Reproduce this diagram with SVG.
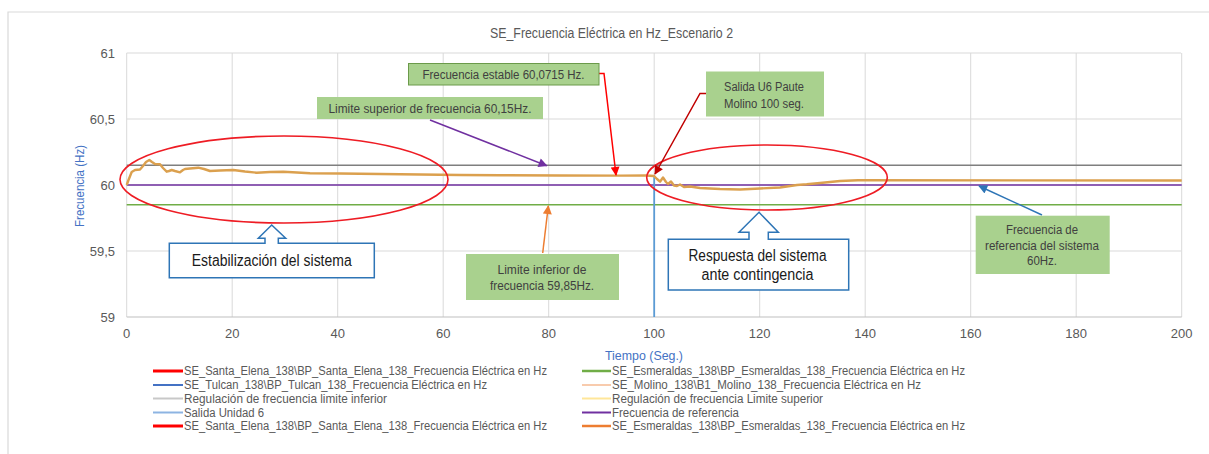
<svg xmlns="http://www.w3.org/2000/svg" width="1209" height="454" viewBox="0 0 1209 454">
  <style>
    text { font-family: "Liberation Sans", Arial, sans-serif; }
    .grid { stroke: #d9d9d9; stroke-width: 1; fill: none; }
    .tick { font-size: 13px; fill: #595959; }
    .ytick { text-anchor: end; }
    .xtick { text-anchor: middle; }
    .axtitle { font-size: 13px; fill: #4472c4; text-anchor: middle; }
    .title { font-size: 14px; fill: #595959; text-anchor: middle; }
    .leg { font-size: 12px; fill: #595959; }
    .note { fill: #a9d18e; }
    .notetxt { font-size: 12px; fill: #404040; text-anchor: middle; }
    .callout { fill: #ffffff; stroke: #2e75b6; stroke-width: 1.5; }
    .calltxt { font-size: 16px; fill: #1a1a1a; text-anchor: middle; }
    .halo { fill: none; stroke: #ee1c24; stroke-width: 1.6; }
    .conn { fill: none; stroke-width: 1.5; }
  </style>
  <defs>
    <marker id="ahPurple" viewBox="0 0 10 10" refX="9" refY="5" markerWidth="10" markerHeight="9" markerUnits="userSpaceOnUse" orient="auto">
      <path d="M0,0 L10,5 L0,10 z" fill="#7030a0"/>
    </marker>
    <marker id="ahRed" viewBox="0 0 10 10" refX="9" refY="5" markerWidth="10" markerHeight="9" markerUnits="userSpaceOnUse" orient="auto">
      <path d="M0,0 L10,5 L0,10 z" fill="#ff0000"/>
    </marker>
    <marker id="ahDarkRed" viewBox="0 0 10 10" refX="9" refY="5" markerWidth="10" markerHeight="9" markerUnits="userSpaceOnUse" orient="auto">
      <path d="M0,0 L10,5 L0,10 z" fill="#c00000"/>
    </marker>
    <marker id="ahOrange" viewBox="0 0 10 10" refX="9" refY="5" markerWidth="10" markerHeight="9" markerUnits="userSpaceOnUse" orient="auto">
      <path d="M0,0 L10,5 L0,10 z" fill="#ed7d31"/>
    </marker>
    <marker id="ahBlue" viewBox="0 0 10 10" refX="9" refY="5" markerWidth="10" markerHeight="9" markerUnits="userSpaceOnUse" orient="auto">
      <path d="M0,0 L10,5 L0,10 z" fill="#2e75b6"/>
    </marker>
  </defs>

  <rect width="1209" height="454" fill="#ffffff"/>
  <!-- chart frame -->
  <path d="M8,460 L8,12 L1215,12" fill="none" stroke="#d9d9d9" stroke-width="1.2"/>

  <text id="title" class="title" x="611.5" y="38" textLength="243" lengthAdjust="spacingAndGlyphs">SE_Frecuencia Eléctrica en Hz_Escenario 2</text>

  <!-- plot grid -->
  <g id="grid">
    <path class="grid" d="M126.7,53 H1181 M126.7,119 H1181 M126.7,185 H1181 M126.7,251 H1181"/>
    <path class="grid" d="M126.7,53 V317 M232.2,53 V317 M337.7,53 V317 M443.2,53 V317 M548.7,53 V317 M654.2,53 V317 M759.7,53 V317 M865.2,53 V317 M970.7,53 V317 M1076.2,53 V317 M1181.7,53 V317"/>
    <path d="M126.7,317 H1181.7" stroke="#bfbfbf" stroke-width="1.2"/>
  </g>

  <g id="y-axis">
    <text class="tick ytick" x="115" y="58">61</text>
    <text class="tick ytick" x="115" y="124">60,5</text>
    <text class="tick ytick" x="115" y="190">60</text>
    <text class="tick ytick" x="115" y="256">59,5</text>
    <text class="tick ytick" x="115" y="322">59</text>
    <text class="axtitle" transform="translate(84,186) rotate(-90)" textLength="82" lengthAdjust="spacingAndGlyphs">Frecuencia (Hz)</text>
  </g>

  <g id="x-axis">
    <text class="tick xtick" x="126.7" y="338">0</text>
    <text class="tick xtick" x="232.2" y="338">20</text>
    <text class="tick xtick" x="337.7" y="338">40</text>
    <text class="tick xtick" x="443.2" y="338">60</text>
    <text class="tick xtick" x="548.7" y="338">80</text>
    <text class="tick xtick" x="654.2" y="338">100</text>
    <text class="tick xtick" x="759.7" y="338">120</text>
    <text class="tick xtick" x="865.2" y="338">140</text>
    <text class="tick xtick" x="970.7" y="338">160</text>
    <text class="tick xtick" x="1076.2" y="338">180</text>
    <text class="tick xtick" x="1181.7" y="338">200</text>
    <text class="axtitle" x="644" y="360" textLength="78" lengthAdjust="spacingAndGlyphs">Tiempo (Seg.)</text>
  </g>

  <!-- data series -->
  <g id="series">
    <path d="M126.7,165.2 H1181.7" stroke="#7f7f7f" stroke-width="1.5"/>
    <path d="M126.7,185 H1181.7" stroke="#7030a0" stroke-width="1.5"/>
    <path d="M126.7,204.8 H1181.7" stroke="#70ad47" stroke-width="1.5"/>
    <path d="M654.2,175 V317" stroke="#5b9bd5" stroke-width="1.8"/>
    <path fill="none" stroke="#dba04e" stroke-width="2.4" stroke-linejoin="round" d="M126.7,185 L128.5,180 L131.7,172 L135,170 L140,169.5 L143,166 L146,162 L149.3,160 L152,162 L155,164 L160,164.3 L163,168 L166.7,171.7 L169,171 L171.7,170 L175,171 L180,172.3 L183,170 L185,169 L190,168.5 L198.3,167.7 L204,169 L210,171 L220,170.5 L233.3,170 L245,171.5 L256.7,172.7 L270,172 L283.3,171.7 L297,172.5 L310,173.3 L340,173.5 L380,174 L420,174.5 L460,175 L500,175.2 L560,175.5 L620,175.6 L646,175.5 L654,176 L657,179 L660,181.7 L663,177.5 L666,182 L668,184 L671,181.5 L674,185.5 L677,186 L680,184.5 L684,187 L690,186.5 L700,188 L720,189 L740,189.5 L760,188.5 L780,187.5 L797,185 L806.7,184.3 L820,183 L840,181 L858,180.3 L1181.7,180.5"/>
  </g>

  <!-- highlighted regions -->
  <g id="region-stabilisation">
    <ellipse class="halo" cx="284" cy="179.5" rx="164" ry="43.5"/>
  </g>
  <g id="region-response">
    <ellipse class="halo" cx="767" cy="177.5" rx="120.3" ry="32.5"/>
  </g>

  <!-- annotation connectors -->
  <g id="connectors">
    <path class="conn" stroke="#7030a0" d="M430,120 L546.7,165.7" marker-end="url(#ahPurple)"/>
    <path class="conn" stroke="#ff0000" d="M599,73.5 L604,73.5 L616,175" marker-end="url(#ahRed)"/>
    <path class="conn" stroke="#c00000" d="M706,93.5 L700,93.5 L655,174" marker-end="url(#ahDarkRed)"/>
    <path class="conn" stroke="#ed7d31" d="M542.7,253 L548.3,206" marker-end="url(#ahOrange)"/>
    <path class="conn" stroke="#2e75b6" d="M1042,215 L979,186" marker-end="url(#ahBlue)"/>
  </g>

  <g id="note-upper-limit">
    <rect class="note" x="317" y="97" width="226" height="22"/>
    <text class="notetxt" x="430" y="112.5" textLength="203" lengthAdjust="spacingAndGlyphs">Limite superior  de frecuencia 60,15Hz.</text>
  </g>
  <g id="note-stable">
    <rect class="note" x="408.5" y="63.5" width="190.5" height="21.5" stroke="#6b9a4a" stroke-width="1"/>
    <text class="notetxt" x="503.5" y="78.5" textLength="162" lengthAdjust="spacingAndGlyphs">Frecuencia estable 60,0715 Hz.</text>
  </g>
  <g id="note-trip">
    <rect class="note" x="706" y="71.5" width="118" height="45"/>
    <text class="notetxt" x="764" y="91" textLength="80" lengthAdjust="spacingAndGlyphs">Salida U6 Paute</text>
    <text class="notetxt" x="764" y="107.5" textLength="80" lengthAdjust="spacingAndGlyphs">Molino 100 seg.</text>
  </g>
  <g id="note-lower-limit">
    <rect class="note" x="466" y="254" width="153" height="46"/>
    <text class="notetxt" x="542" y="274" textLength="89" lengthAdjust="spacingAndGlyphs">Limite inferior de</text>
    <text class="notetxt" x="542" y="290" textLength="104" lengthAdjust="spacingAndGlyphs">frecuencia 59,85Hz.</text>
  </g>
  <g id="note-reference">
    <rect class="note" x="975.7" y="215.7" width="134" height="58.3"/>
    <text class="notetxt" x="1042" y="234" textLength="72" lengthAdjust="spacingAndGlyphs">Frecuencia de</text>
    <text class="notetxt" x="1042" y="249.5" textLength="114" lengthAdjust="spacingAndGlyphs">referencia del sistema</text>
    <text class="notetxt" x="1042" y="265" textLength="30" lengthAdjust="spacingAndGlyphs">60Hz.</text>
  </g>

  <g id="callout-stabilisation">
    <path class="callout" d="M169.3,243.3 H265 V238.3 H258.3 L271.7,225 L285.7,238.3 H278.3 V243.3 H374.3 V277.7 H169.3 Z"/>
    <text class="calltxt" x="271.7" y="266" textLength="160" lengthAdjust="spacingAndGlyphs">Estabilización del sistema</text>
  </g>
  <g id="callout-response">
    <path class="callout" d="M668.3,239.3 H749 V232.3 H739 L759,212.3 L778.3,232.3 H768.3 V239.3 H848.7 V290 H668.3 Z"/>
    <text class="calltxt" x="757.5" y="260.5" textLength="138" lengthAdjust="spacingAndGlyphs">Respuesta del sistema</text>
    <text class="calltxt" x="757.5" y="279.5" textLength="112" lengthAdjust="spacingAndGlyphs">ante contingencia</text>
  </g>

  <!-- legend -->
  <g id="legend">
    <path d="M153,371 H183" stroke="#ff0000" stroke-width="3"/>
    <text class="leg" x="184" y="375" textLength="363" lengthAdjust="spacingAndGlyphs">SE_Santa_Elena_138\BP_Santa_Elena_138_Frecuencia Eléctrica en Hz</text>
    <path d="M153,385 H183" stroke="#4472c4" stroke-width="2"/>
    <text class="leg" x="184" y="389" textLength="303" lengthAdjust="spacingAndGlyphs">SE_Tulcan_138\BP_Tulcan_138_Frecuencia Eléctrica en Hz</text>
    <path d="M153,398.5 H183" stroke="#c8c8c8" stroke-width="2"/>
    <text class="leg" x="184" y="402.5" textLength="203" lengthAdjust="spacingAndGlyphs">Regulación de frecuencia limite inferior</text>
    <path d="M153,412.5 H183" stroke="#8db4e2" stroke-width="2"/>
    <text class="leg" x="184" y="416.5" textLength="80" lengthAdjust="spacingAndGlyphs">Salida Unidad 6</text>
    <path d="M153,426 H183" stroke="#ff0000" stroke-width="3"/>
    <text class="leg" x="184" y="430" textLength="363" lengthAdjust="spacingAndGlyphs">SE_Santa_Elena_138\BP_Santa_Elena_138_Frecuencia Eléctrica en Hz</text>

    <path d="M582,371 H611" stroke="#70ad47" stroke-width="2.5"/>
    <text class="leg" x="612" y="375" textLength="353" lengthAdjust="spacingAndGlyphs">SE_Esmeraldas_138\BP_Esmeraldas_138_Frecuencia Eléctrica en Hz</text>
    <path d="M582,385 H611" stroke="#f8cbad" stroke-width="2"/>
    <text class="leg" x="612" y="389" textLength="309" lengthAdjust="spacingAndGlyphs">SE_Molino_138\B1_Molino_138_Frecuencia Eléctrica en Hz</text>
    <path d="M582,398.5 H611" stroke="#ffe699" stroke-width="2"/>
    <text class="leg" x="612" y="402.5" textLength="211" lengthAdjust="spacingAndGlyphs">Regulación de frecuencia Limite superior</text>
    <path d="M582,412.5 H611" stroke="#7030a0" stroke-width="2"/>
    <text class="leg" x="612" y="416.5" textLength="127" lengthAdjust="spacingAndGlyphs">Frecuencia de referencia</text>
    <path d="M582,426 H611" stroke="#ed7d31" stroke-width="2.5"/>
    <text class="leg" x="612" y="430" textLength="353" lengthAdjust="spacingAndGlyphs">SE_Esmeraldas_138\BP_Esmeraldas_138_Frecuencia Eléctrica en Hz</text>
  </g>
</svg>
